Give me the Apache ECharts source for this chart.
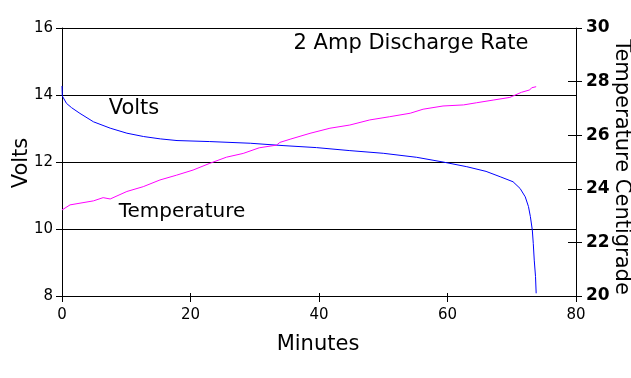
<!DOCTYPE html>
<html><head><meta charset="utf-8">
<script src="https://cdn.jsdelivr.net/npm/echarts@6/dist/echarts.min.js"></script>
<style>html,body{margin:0;padding:0;background:#fff}#c{width:631px;height:378px}</style>
</head><body><div id="c"></div>
<script>
const voltMinutes = [0, 0.05, 0.7, 1.5, 2.8, 4.9, 7.5, 10.1, 12.7, 15.3, 17.9, 23.0, 29.3, 34.4, 39.6, 44.8, 50.0, 55.2, 59.3, 63.0, 66.0, 68.2, 70.2, 71.3, 72.1, 72.6, 72.9, 73.2, 73.35, 73.5, 73.7, 73.8];
const voltValues = [14.27, 13.97, 13.75, 13.62, 13.45, 13.20, 13.01, 12.86, 12.76, 12.69, 12.64, 12.61, 12.56, 12.49, 12.43, 12.34, 12.26, 12.14, 12.0, 11.86, 11.72, 11.56, 11.41, 11.21, 10.96, 10.67, 10.37, 9.97, 9.57, 9.07, 8.58, 8.08];
const tempMinutes = [0, 1.25, 4.9, 6.4, 7.5, 10.1, 12.65, 15.25, 17.85, 20.4, 23.0, 25.6, 28.2, 30.7, 33.4, 33.9, 35.5, 38.6, 41.7, 44.8, 47.9, 51.0, 54.2, 56.2, 59.3, 62.5, 64.5, 67.1, 69.7, 71.5, 72.8, 73.1, 73.8];
const tempValues = [23.21, 23.40, 23.55, 23.67, 23.62, 23.9, 24.08, 24.33, 24.51, 24.70, 24.95, 25.18, 25.32, 25.53, 25.63, 25.73, 25.85, 26.07, 26.26, 26.38, 26.57, 26.69, 26.82, 26.97, 27.09, 27.13, 27.21, 27.31, 27.41, 27.60, 27.69, 27.77, 27.81];
const xTicks = [0, 20, 40, 60, 80];
const voltTicks = [8, 10, 12, 14, 16];
const tempTicks = [20, 22, 24, 26, 28, 30];
const titleText = '2 Amp Discharge Rate';
const labelVolts = 'Volts';
const labelTemp = 'Temperature';
const xName = 'Minutes';
const yLeftName = 'Volts';
const yRightName = 'Temperature Centigrade';

const chart = echarts.init(document.getElementById('c'), null, {renderer: 'canvas'});
const tickFont = {fontFamily: 'DejaVu Sans', fontSize: 15, color: '#000'};
const nameFont = '"DejaVu Sans"';
const line = {lineStyle: {color: '#000', width: 1}};
const gridBox = {left: 62, right: 55, top: 28, bottom: 82, containLabel: false};
const option = {
  animation: false,
  grid: [gridBox, {...gridBox}],
  xAxis: [
    {type: 'value', gridIndex: 0, min: xTicks[0], max: xTicks[xTicks.length-1], interval: 20,
     axisLine: {show: true, onZero: false, ...line},
     axisTick: {show: true, length: 6, ...line},
     axisLabel: {...tickFont, margin: 12},
     splitLine: {show: false}},
    {type: 'value', gridIndex: 1, min: xTicks[0], max: xTicks[xTicks.length-1], interval: 20, position: 'bottom',
     axisLine: {show: false, onZero: false}, axisTick: {show: true, inside: true, length: 3, ...line},
     axisLabel: {show: false}, splitLine: {show: false}}
  ],
  yAxis: [
    {type: 'value', gridIndex: 0, min: voltTicks[0], max: voltTicks[voltTicks.length-1], interval: 2, position: 'left',
     axisLine: {show: true, onZero: false, ...line},
     axisTick: {show: true, length: 6, ...line},
     axisLabel: {...tickFont, margin: 9},
     splitLine: {show: true, lineStyle: {color: '#000', width: 1}}},
    {type: 'value', gridIndex: 0, min: tempTicks[0], max: tempTicks[tempTicks.length-1], interval: 2, position: 'right',
     axisLine: {show: true, onZero: false, ...line},
     axisTick: {show: true, length: 6, ...line},
     axisLabel: {fontFamily: 'DejaVu Sans', fontSize: 17, fontWeight: 'bold', color: '#000', margin: 10},
     splitLine: {show: false}},
    {type: 'value', gridIndex: 1, min: tempTicks[0], max: tempTicks[tempTicks.length-1], interval: 2, position: 'right',
     axisLine: {show: false, onZero: false}, axisTick: {show: true, inside: true, length: 8, ...line},
     axisLabel: {show: false}, splitLine: {show: false}}
  ],
  series: [
    {type: 'line', name: 'Volts', xAxisIndex: 0, yAxisIndex: 0, showSymbol: false, symbol: 'none',
     lineStyle: {color: '#0000ff', width: 1}, itemStyle: {color: '#0000ff'},
     data: voltMinutes.map((t, i) => [t, voltValues[i]])},
    {type: 'line', name: 'Temperature', xAxisIndex: 0, yAxisIndex: 1, showSymbol: false, symbol: 'none',
     lineStyle: {color: '#ff00ff', width: 1}, itemStyle: {color: '#ff00ff'},
     data: tempMinutes.map((t, i) => [t, tempValues[i]])}
  ],
  graphic: [
    {type: 'text', x: 411, y: 44, style: {text: titleText, font: '21px ' + nameFont, fill: '#000', align: 'center', verticalAlign: 'middle'}},
    {type: 'text', x: 134, y: 109, style: {text: labelVolts, font: '21px ' + nameFont, fill: '#000', align: 'center', verticalAlign: 'middle'}},
    {type: 'text', x: 182, y: 212, style: {text: labelTemp, font: '20px ' + nameFont, fill: '#000', align: 'center', verticalAlign: 'middle'}},
    {type: 'text', x: 318, y: 345, style: {text: xName, font: '21px ' + nameFont, fill: '#000', align: 'center', verticalAlign: 'middle'}},
    {type: 'text', x: 22, y: 163, rotation: Math.PI/2, style: {text: yLeftName, font: '21px ' + nameFont, fill: '#000', align: 'center', verticalAlign: 'middle'}},
    {type: 'text', x: 621, y: 167, rotation: -Math.PI/2, style: {text: yRightName, font: '21px ' + nameFont, fill: '#000', align: 'center', verticalAlign: 'middle'}}
  ]
};
chart.setOption(option);
</script></body></html>
